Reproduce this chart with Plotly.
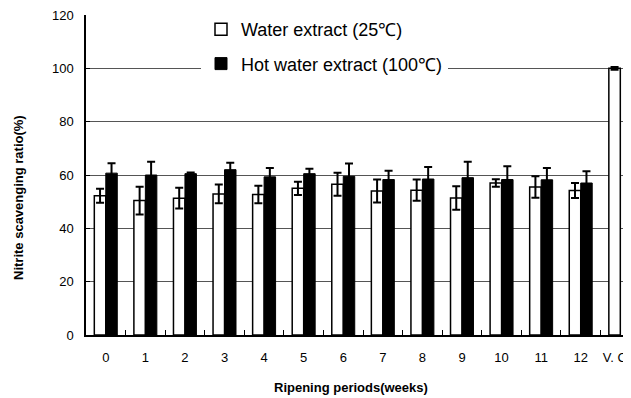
import plotly.graph_objects as go

categories = ["0", "1", "2", "3", "4", "5", "6", "7", "8", "9", "10", "11", "12", "V. C"]
tick_labels = ["0", "1", "2", "3", "4", "5", "6", "7", "8", "9", "10", "11", "12", "V. C\u00a0\u00a0\u00a0"]
water = [52.2, 50.4, 51.3, 52.9, 52.7, 55.0, 56.5, 54.0, 54.3, 51.4, 57.0, 55.5, 54.2, 100.0]
water_err = [2.6, 5.2, 3.9, 3.5, 3.3, 2.5, 4.3, 4.3, 4.0, 4.4, 1.4, 4.0, 2.8, 0.5]
hot = [60.7, 60.0, 60.5, 62.0, 59.3, 60.5, 59.5, 58.3, 58.5, 59.0, 58.3, 58.2, 57.0, None]
hot_err = [3.7, 5.0, 0.4, 2.6, 3.3, 1.8, 4.8, 3.3, 4.5, 6.0, 5.0, 4.4, 4.4, None]
y_ticks = [0, 20, 40, 60, 80, 100, 120]

# page has an 8px body margin; figure sized to fit the 631x398 window
OFF = 8
W, H = 631 - OFF, 398 - OFF
PL, PT, PB, PR = 86, 15, 335, 631   # plot area in screen pixels
L, T, B, R = PL - OFF, PT - OFF, (H + OFF) - PB, 0
pw, ph = PR - PL, PB - PT

def scr(xs, ys):
    return (xs - PL) / pw, (PB - ys) / ph

fig = go.Figure()
fig.add_trace(go.Bar(
    x=categories, y=water, name="Water extract (25℃)", legendgroup="a",
    marker=dict(color="white", line=dict(color="black", width=1.5)),
    error_y=dict(type="data", array=water_err, color="black", thickness=2, width=4),
))
fig.add_trace(go.Bar(
    x=categories, y=hot, name="Hot water extract (100℃)", legendgroup="b",
    marker=dict(color="black", line=dict(color="black", width=1)),
    error_y=dict(type="data", array=hot_err, color="black", thickness=2, width=4),
))

lx, ly = scr(201, 11)
yt_x, yt_y = scr(18, 198)
xt_x, xt_y = scr(351, 387)

fig.update_layout(
    width=W, height=H,
    margin=dict(l=L, r=R, t=T, b=B, autoexpand=False),
    paper_bgcolor="white", plot_bgcolor="white",
    barmode="group", bargap=0.42, bargroupgap=0,
    font=dict(family="Liberation Sans, Arial", color="black"),
    showlegend=True,
    legend=dict(x=lx, y=ly, xanchor="left", yanchor="top",
                bgcolor="white", borderwidth=0, font=dict(size=18),
                tracegroupgap=8, traceorder="grouped"),
    xaxis=dict(range=[-0.5, 13.27], showline=True, linecolor="black", linewidth=1.5,
               tickmode="array", tickvals=categories, ticktext=tick_labels, tickangle=0,
               ticks="inside", tickson="boundaries", ticklen=5, tickcolor="black",
               showgrid=False, tickfont=dict(size=13), ticklabelstandoff=10,
               ticklabeloverflow="allow", automargin=False),
    yaxis=dict(range=[0, 120], tickvals=y_ticks, showline=True, linecolor="black",
               linewidth=1.5, ticks="inside", ticklen=4, tickcolor="black",
               showgrid=True, gridcolor="#555", gridwidth=1, zeroline=False,
               tickfont=dict(size=13), ticklabelstandoff=8,
               ticklabeloverflow="allow", automargin=False),
    annotations=[
        dict(text="<b>Nitrite scavenging ratio(%)</b>", textangle=-90, x=yt_x, y=yt_y,
             xref="paper", yref="paper", xanchor="center", yanchor="middle",
             showarrow=False, font=dict(size=13)),
        dict(text="<b>Ripening periods(weeks)</b>", x=xt_x, y=xt_y,
             xref="paper", yref="paper", xanchor="center", yanchor="middle",
             showarrow=False, font=dict(size=13)),
    ],
)
fig.write_html("out.html")
